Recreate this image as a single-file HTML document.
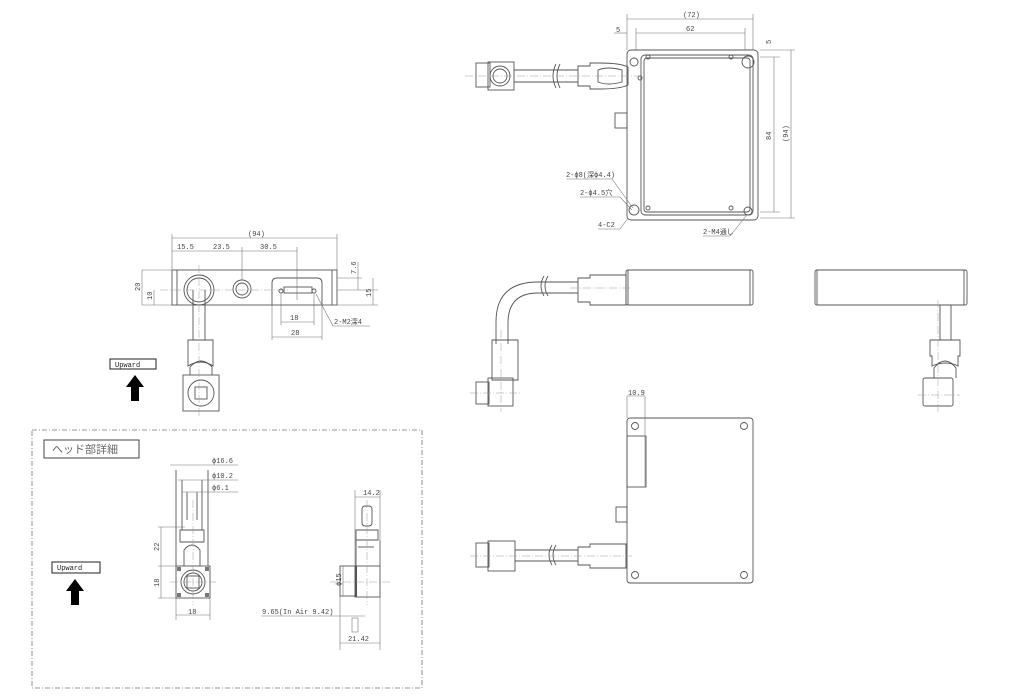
<!DOCTYPE html>
<html><head><meta charset="utf-8"><style>
html,body{margin:0;padding:0;background:#fff;}
svg{display:block;}
text{font-family:"Liberation Mono","Noto Sans CJK JP",monospace;font-size:7px;fill:#444;}
.l{stroke:#555;stroke-width:0.9;fill:none;}
.t{stroke:#777;stroke-width:0.6;fill:none;}
.c{stroke:#999;stroke-width:0.5;fill:none;stroke-dasharray:8 2 1 2;}
</style></head><body>
<svg width="1030" height="700" viewBox="0 0 1030 700" xmlns="http://www.w3.org/2000/svg">
<!-- ===== TOP VIEW ===== -->
<rect class="l" x="627" y="50" width="131" height="170" rx="4"/>
<rect class="l" x="641" y="55" width="112" height="160" rx="4"/>
<rect class="l" x="644" y="58" width="106" height="154" rx="3"/>
<circle class="l" cx="634" cy="62" r="4"/><circle class="l" cx="748" cy="62" r="6"/>
<circle class="l" cx="634" cy="210" r="5"/><circle class="l" cx="748" cy="211" r="4"/>
<circle class="l" cx="640" cy="78" r="2"/>
<circle class="l" cx="648" cy="57" r="2"/><circle class="l" cx="731" cy="57" r="2"/>
<circle class="l" cx="648" cy="208" r="2"/><circle class="l" cx="731" cy="208" r="2"/>
<rect class="l" x="615" y="113" width="12" height="15"/>
<rect class="l" x="476" y="63" width="14" height="24"/>
<rect class="l" x="488" y="62" width="26" height="28"/>
<circle class="l" cx="500" cy="76" r="10"/><circle class="l" cx="500" cy="76" r="7"/>
<line class="l" x1="514" y1="70" x2="578" y2="70"/><line class="l" x1="514" y1="82" x2="578" y2="82"/>
<path class="l" d="M556 64 q-6 12 0 24 M560 64 q-6 12 0 24"/>
<path class="l" d="M578 66 h12 v-3 h10 q20 0 28 4 v18 q-8 4 -28 4 h-10 v-3 h-12 z"/>
<path class="l" d="M598 70 q10 -4 24 0 v12 q-14 4 -24 0 z"/>
<line class="c" x1="465" y1="76" x2="640" y2="76"/>
<line class="t" x1="627" y1="19" x2="753" y2="19"/><text x="683" y="17">(72)</text>
<line class="t" x1="627" y1="14" x2="627" y2="50"/><line class="t" x1="753" y1="14" x2="753" y2="50"/>
<line class="t" x1="636" y1="33" x2="745" y2="33"/><text x="686" y="31">62</text>
<line class="t" x1="636" y1="28" x2="636" y2="50"/><line class="t" x1="745" y1="28" x2="745" y2="50"/>
<text x="616" y="32">5</text><line class="t" x1="614" y1="33" x2="627" y2="33"/>
<line class="t" x1="760" y1="50" x2="795" y2="50"/><line class="t" x1="760" y1="57" x2="780" y2="57"/>
<line class="t" x1="760" y1="212" x2="780" y2="212"/><line class="t" x1="760" y1="218" x2="795" y2="218"/>
<line class="t" x1="774" y1="57" x2="774" y2="212"/><line class="t" x1="791" y1="50" x2="791" y2="218"/>
<text transform="translate(771,44) rotate(-90)">5</text>
<text transform="translate(771,140) rotate(-90)">84</text>
<text transform="translate(788,142) rotate(-90)">(94)</text>
<text x="566" y="177">2-ϕ8(深ϕ4.4)</text><line class="t" x1="566" y1="179" x2="612" y2="179"/><line class="t" x1="612" y1="179" x2="633" y2="208"/>
<text x="580" y="195">2-ϕ4.5穴</text><line class="t" x1="580" y1="197" x2="620" y2="197"/><line class="t" x1="620" y1="197" x2="632" y2="210"/>
<text x="598" y="227">4-C2</text><line class="t" x1="598" y1="229" x2="620" y2="229"/><line class="t" x1="620" y1="229" x2="628" y2="218"/>
<text x="703" y="234">2-M4通し</text><line class="t" x1="703" y1="236" x2="730" y2="236"/><line class="t" x1="730" y1="236" x2="746" y2="216"/>
<!-- ===== SIDE VIEW middle ===== -->
<rect class="l" x="626" y="270" width="127" height="35" rx="2"/>
<line class="l" x1="628" y1="270" x2="628" y2="305"/><line class="l" x1="750" y1="270" x2="750" y2="305"/>
<path class="l" d="M578 278 h12 v-3 h36 v30 h-36 v-3 h-12 z"/>
<line class="c" x1="570" y1="288" x2="630" y2="288"/>
<path class="l" d="M578 282 h-40 q-42 0 -42 40 v22 M578 293 h-40 q-30 0 -30 30 v21"/>
<path class="l" d="M544 276 q-6 10 0 20 M548 276 q-6 10 0 20"/>
<path class="l" d="M492 340 h26 v40 h-26 z"/>
<rect class="l" x="488" y="378" width="25" height="28"/><rect class="l" x="476" y="382" width="13" height="22"/>
<line class="c" x1="470" y1="393" x2="520" y2="393"/><line class="c" x1="501" y1="330" x2="501" y2="412"/>
<rect class="l" x="815" y="270" width="152" height="35" rx="2"/>
<line class="l" x1="817" y1="270" x2="817" y2="305"/><line class="l" x1="964" y1="270" x2="964" y2="305"/>
<line class="l" x1="940" y1="305" x2="940" y2="340"/><line class="l" x1="951" y1="305" x2="951" y2="340"/>
<path class="l" d="M930 340 h30 v16 h-2 v10 q-12 -6 -26 0 v-10 h-2 z"/>
<path class="l" d="M934 378 v-10 q11 -14 22 0 v10"/>
<rect class="l" x="923" y="378" width="30" height="28" rx="2"/>
<line class="c" x1="918" y1="395" x2="960" y2="395"/><line class="c" x1="938" y1="300" x2="938" y2="412"/>
<!-- ===== BOTTOM RIGHT ===== -->
<rect class="l" x="627" y="418" width="126" height="165" rx="3"/>
<rect class="l" x="627" y="436" width="19" height="51"/>
<rect class="l" x="616" y="507" width="11" height="15"/>
<circle class="l" cx="635" cy="426" r="3.5"/><circle class="l" cx="744" cy="426" r="3.5"/>
<circle class="l" cx="635" cy="575" r="3.5"/><circle class="l" cx="744" cy="575" r="3.5"/>
<line class="t" x1="627" y1="396" x2="645" y2="396"/><line class="t" x1="627" y1="396" x2="627" y2="418"/><line class="t" x1="645" y1="396" x2="645" y2="487"/>
<text x="628" y="395">10.9</text>
<rect class="l" x="476" y="543" width="13" height="24"/><rect class="l" x="488" y="541" width="27" height="30"/>
<line class="l" x1="515" y1="550" x2="578" y2="550"/><line class="l" x1="515" y1="561" x2="578" y2="561"/>
<path class="l" d="M552 545 q-6 10 0 20 M556 545 q-6 10 0 20"/>
<path class="l" d="M578 547 h12 v-3 h36 v24 h-36 v-3 h-12 z"/>
<line class="c" x1="470" y1="556" x2="632" y2="556"/>
<!-- ===== LEFT MIDDLE ===== -->
<rect class="l" x="172" y="270" width="165" height="35"/>
<line class="l" x1="177" y1="270" x2="177" y2="305"/><line class="l" x1="332" y1="270" x2="332" y2="305"/>
<circle class="l" cx="199" cy="290" r="15"/><circle class="l" cx="199" cy="290" r="12"/>
<circle class="l" cx="242" cy="289" r="9"/><circle class="l" cx="242" cy="289" r="6"/>
<path class="l" d="M272 305 v-22 q0 -5 5 -5 h40 q5 0 5 5 v22"/>
<rect class="l" x="284" y="287" width="28" height="6"/>
<circle class="l" cx="281" cy="291" r="2"/><circle class="l" cx="314" cy="291" r="2"/>
<line class="l" x1="193" y1="290" x2="193" y2="340"/><line class="l" x1="205" y1="290" x2="205" y2="340"/>
<path class="l" d="M188 340 h25 v26 q-12 -8 -25 0 z"/>
<path class="l" d="M190 375 v-8 q11 -12 22 0 v8"/>
<rect class="l" x="183" y="375" width="36" height="36"/><circle class="l" cx="201" cy="393" r="13"/><rect class="l" x="195" y="387" width="12" height="12"/>
<line class="c" x1="160" y1="290" x2="290" y2="290"/><line class="c" x1="199" y1="265" x2="199" y2="418"/>
<line class="t" x1="172" y1="238" x2="337" y2="238"/><text x="248" y="236">(94)</text>
<line class="t" x1="172" y1="234" x2="172" y2="270"/><line class="t" x1="337" y1="234" x2="337" y2="270"/>
<line class="t" x1="172" y1="251" x2="297" y2="251"/>
<text x="177" y="249">15.5</text><text x="213" y="249">23.5</text><text x="260" y="249">30.5</text>
<line class="t" x1="242" y1="247" x2="242" y2="280"/><line class="t" x1="297" y1="247" x2="297" y2="300"/>
<line class="t" x1="142" y1="270" x2="172" y2="270"/><line class="t" x1="142" y1="305" x2="172" y2="305"/>
<line class="t" x1="142" y1="270" x2="142" y2="305"/><line class="t" x1="154" y1="290" x2="154" y2="305"/>
<text transform="translate(140,291) rotate(-90)">20</text><text transform="translate(152,300) rotate(-90)">10</text>
<line class="t" x1="337" y1="278" x2="362" y2="278"/><line class="t" x1="322" y1="305" x2="378" y2="305"/><line class="t" x1="337" y1="290" x2="378" y2="290"/>
<line class="t" x1="358" y1="262" x2="358" y2="290"/><line class="t" x1="373" y1="278" x2="373" y2="305"/>
<text transform="translate(356,274) rotate(-90)">7.6</text><text transform="translate(371,297) rotate(-90)">15</text>
<line class="t" x1="281" y1="293" x2="281" y2="325"/><line class="t" x1="314" y1="293" x2="314" y2="325"/>
<line class="t" x1="281" y1="322" x2="314" y2="322"/><text x="290" y="320">18</text>
<line class="t" x1="272" y1="305" x2="272" y2="340"/><line class="t" x1="322" y1="305" x2="322" y2="340"/>
<line class="t" x1="272" y1="337" x2="322" y2="337"/><text x="291" y="335">28</text>
<line class="t" x1="316" y1="294" x2="333" y2="326"/><line class="t" x1="333" y1="326" x2="370" y2="326"/><text x="334" y="324">2-M2深4</text>
<rect x="110" y="359" width="46" height="10" fill="#fff" stroke="#222" stroke-width="1"/><text x="115" y="367" style="fill:#222">Upward</text>
<path d="M131 401 v-14 h-5 l9 -12 l9 12 h-5 v14 z" fill="#000"/>
<!-- ===== DETAIL BOX ===== -->
<rect x="32" y="430" width="390" height="258" fill="none" stroke="#777" stroke-width="0.8" stroke-dasharray="5 2 1 2"/>
<rect x="44" y="440" width="95" height="18" fill="#fff" stroke="#444" stroke-width="1"/>
<text x="52" y="453" style="font-size:11px;fill:#666">ヘッド部詳細</text>
<rect x="52" y="562" width="48" height="11" fill="#fff" stroke="#222" stroke-width="1"/><text x="57" y="570" style="fill:#222">Upward</text>
<path d="M71 605 v-14 h-5 l9 -12 l9 12 h-5 v14 z" fill="#000"/>
<line class="l" x1="176" y1="470" x2="176" y2="566"/><line class="l" x1="208" y1="470" x2="208" y2="566"/>
<line class="l" x1="182" y1="480" x2="182" y2="530"/><line class="l" x1="202" y1="480" x2="202" y2="530"/>
<line class="l" x1="187" y1="492" x2="187" y2="520"/><line class="l" x1="197" y1="492" x2="197" y2="520"/>
<path class="l" d="M180 530 h24 v12 h-24 z M184 566 v-16 q8 -10 16 0 v16"/>
<rect class="l" x="176" y="566" width="34" height="32"/><circle class="l" cx="193" cy="582" r="12"/><circle class="l" cx="193" cy="582" r="9"/><rect class="l" x="187" y="576" width="12" height="12"/>
<rect x="177" y="567" width="4" height="4" fill="#777"/><rect x="205" y="567" width="4" height="4" fill="#777"/><rect x="177" y="593" width="4" height="4" fill="#777"/><rect x="205" y="593" width="4" height="4" fill="#777"/>
<line class="c" x1="170" y1="582" x2="216" y2="582"/><line class="c" x1="193" y1="500" x2="193" y2="605"/>
<line class="t" x1="170" y1="465" x2="238" y2="465"/><text x="212" y="463">ϕ16.6</text>
<line class="t" x1="178" y1="480" x2="238" y2="480"/><text x="212" y="478">ϕ10.2</text>
<line class="t" x1="182" y1="492" x2="238" y2="492"/><text x="212" y="490">ϕ6.1</text>
<line class="t" x1="158" y1="527" x2="185" y2="527"/><line class="t" x1="158" y1="598" x2="176" y2="598"/><line class="t" x1="158" y1="566" x2="176" y2="566"/>
<line class="t" x1="161" y1="527" x2="161" y2="598"/>
<text transform="translate(159,551) rotate(-90)">22</text><text transform="translate(159,587) rotate(-90)">18</text>
<line class="t" x1="176" y1="598" x2="176" y2="620"/><line class="t" x1="210" y1="598" x2="210" y2="620"/>
<line class="t" x1="176" y1="615" x2="210" y2="615"/><text x="188" y="614">18</text>
<rect class="l" x="362" y="506" width="10" height="20" rx="3"/>
<path class="l" d="M356 530 h22 v10 h-22 z M356 540 v26 M380 540 v26"/>
<line class="l" x1="358" y1="547" x2="374" y2="547"/>
<rect class="l" x="340" y="566" width="16" height="30"/><rect class="l" x="355" y="566" width="25" height="31"/>
<rect x="355" y="566" width="2" height="31" fill="#555"/>
<line class="c" x1="330" y1="582" x2="390" y2="582"/><line class="c" x1="367" y1="500" x2="367" y2="605"/>
<line class="t" x1="355" y1="497" x2="380" y2="497"/><line class="t" x1="355" y1="490" x2="355" y2="566"/><line class="t" x1="380" y1="490" x2="380" y2="566"/>
<text x="363" y="495">14.2</text>
<line class="t" x1="343" y1="566" x2="343" y2="596"/><text transform="translate(341,586) rotate(-90)">ϕ15</text>
<line class="t" x1="261" y1="616" x2="365" y2="616"/><text x="262" y="614">9.65(In Air 9.42)</text>
<line class="t" x1="340" y1="596" x2="340" y2="650"/><line class="t" x1="380" y1="597" x2="380" y2="650"/>
<line class="t" x1="340" y1="643" x2="380" y2="643"/><text x="348" y="641">21.42</text>
<rect class="t" x="352" y="618" width="6" height="14"/>
</svg>
</body></html>
